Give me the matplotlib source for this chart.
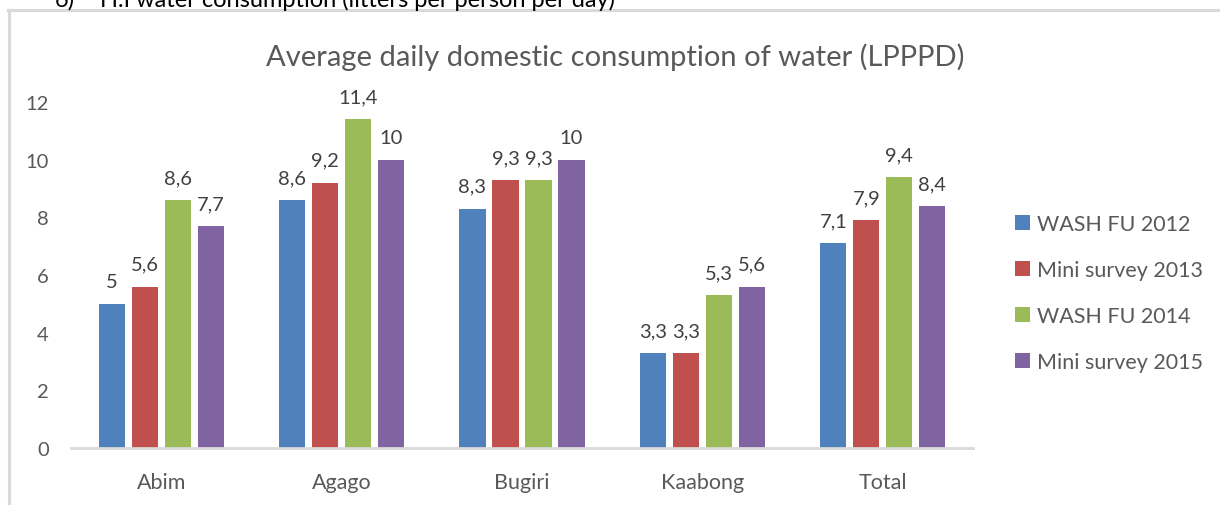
import matplotlib
matplotlib.use("Agg")
import matplotlib.pyplot as plt
from matplotlib.lines import Line2D
from matplotlib.patches import Patch
import numpy as np

plt.rcParams['font.family'] = ['Lato', 'DejaVu Sans']

categories = ["Abim", "Agago", "Bugiri", "Kaabong", "Total"]
series_names = ["WASH FU 2012", "Mini survey 2013", "WASH FU 2014", "Mini survey 2015"]
wash_2012 = [5.0, 8.6, 8.3, 3.3, 7.1]
mini_2013 = [5.6, 9.2, 9.3, 3.3, 7.9]
wash_2014 = [8.6, 11.4, 9.3, 5.3, 9.4]
mini_2015 = [7.7, 10.0, 10.0, 5.6, 8.4]
series_values = [wash_2012, mini_2013, wash_2014, mini_2015]
colors = ["#4F81BD", "#C0504D", "#9BBB59", "#8064A2"]
yticks = [0, 2, 4, 6, 8, 10, 12]

TXT = "#595959"
W, H = 1220, 506
fig = plt.figure(figsize=(W / 100, H / 100), dpi=100)

# frame of the chart area (cropped screenshot)
fig.add_artist(Line2D([9 / W, 9 / W], [0, 1 - 10.5 / H], transform=fig.transFigure,
                      color="#D9D9D9", lw=2.2))
fig.add_artist(Line2D([8 / W, 1], [1 - 10.5 / H, 1 - 10.5 / H], transform=fig.transFigure,
                      color="#D9D9D9", lw=2.2))
# cropped heading text at the very top
fig.text(55 / W, 1 - 7 / H, "6)", fontsize=17, color="#000000", va="baseline", ha="left")
fig.text(100 / W, 1 - 7 / H, "H.I water consumption (litters per person per day)",
         fontsize=17, color="#000000", va="baseline", ha="left")

ax_left, ax_right = 71 / W, 973 / W
ax_bottom = 1 - 449 / H
ax_top = 1 - 103 / H
ax = fig.add_axes([ax_left, ax_bottom, ax_right - ax_left, ax_top - ax_bottom])

x = np.arange(len(categories))
pitch = 0.183
bw = 0.145
for i, (name, vals, c) in enumerate(zip(series_names, series_values, colors)):
    pos = x + (i - 1.5) * pitch
    bars = ax.bar(pos, vals, width=bw, color=c, label=name, zorder=2)
    for b, v in zip(bars, vals):
        lab = (f"{v:g}").replace(".", ",")
        ax.annotate(lab, (b.get_x() + b.get_width() / 2, v), xytext=(0, 10),
                    textcoords="offset points", ha="center", va="bottom",
                    fontsize=14.5, color="#404040")

ax.set_xlim(-0.5, len(categories) - 0.5)
ax.set_ylim(0, 12)
ax.set_yticks(yticks)
ax.set_yticklabels([str(t) for t in yticks])
ax.set_xticks(x)
ax.set_xticklabels(categories)
for s in ["top", "right", "left"]:
    ax.spines[s].set_visible(False)
ax.spines["bottom"].set_color("#D9D9D9")
ax.spines["bottom"].set_linewidth(2)
ax.tick_params(axis="both", length=0, colors=TXT)
ax.tick_params(axis="y", pad=16, labelsize=14.5)
ax.tick_params(axis="x", pad=17, labelsize=15.5)
for lbl in ax.get_xticklabels() + ax.get_yticklabels():
    lbl.set_color(TXT)

fig.text(615 / W, 1 - 57 / H, "Average daily domestic consumption of water (LPPPD)",
         ha="center", va="center", fontsize=21, color=TXT)

handles = [Patch(facecolor=c, edgecolor="none") for c in colors]
leg = fig.legend(handles, series_names, loc="center left",
                 bbox_to_anchor=(1015 / W, 1 - 294 / H), frameon=False,
                 fontsize=15.5, labelcolor=TXT, handlelength=0.7, handleheight=0.7,
                 handletextpad=0.3, labelspacing=1.2, borderpad=0, borderaxespad=0)

fig.savefig("out.png", dpi=100)
